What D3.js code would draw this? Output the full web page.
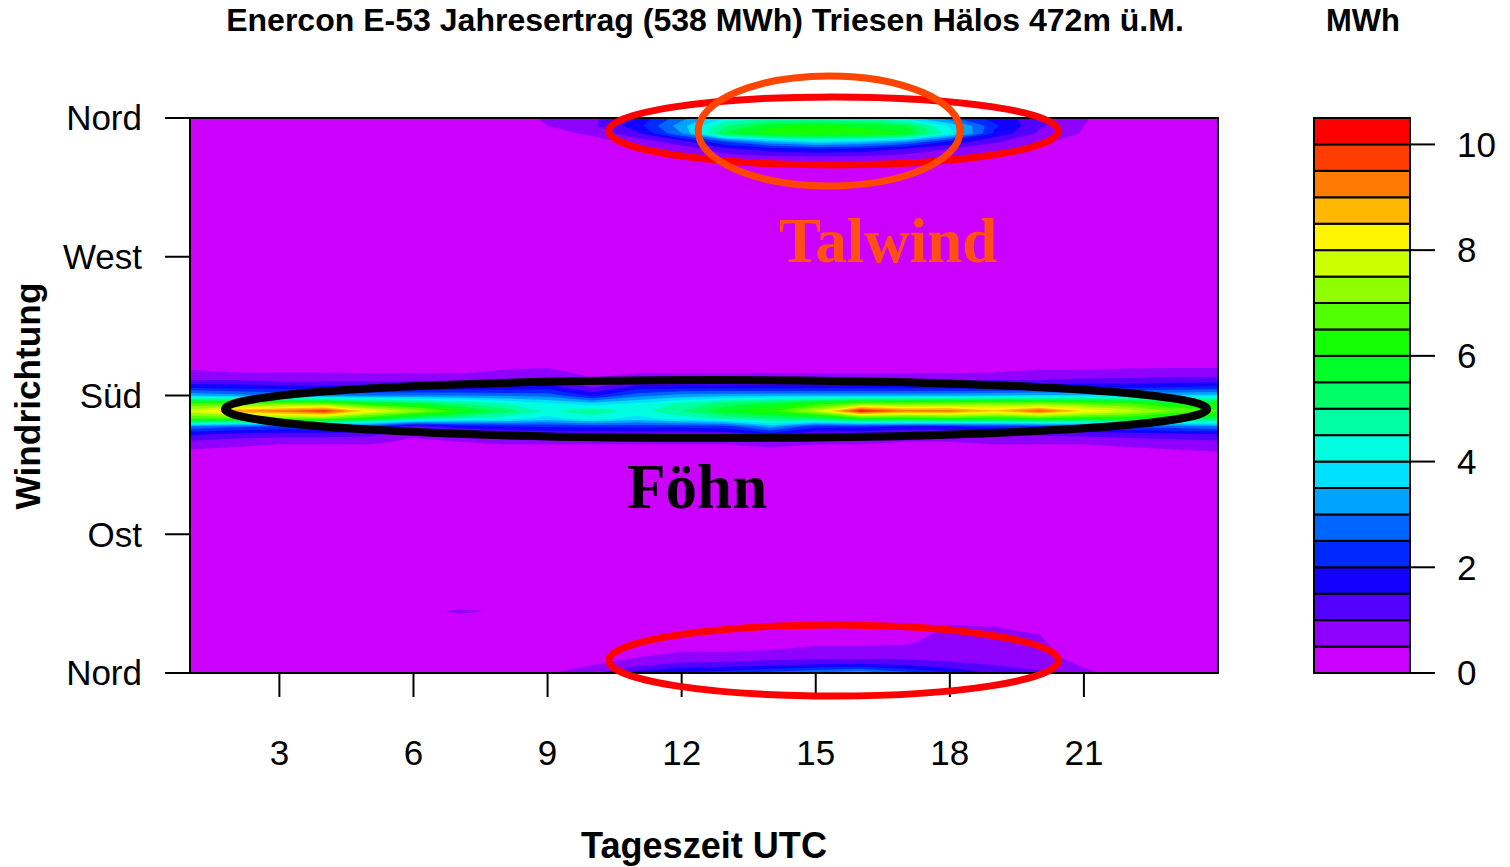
<!DOCTYPE html>
<html><head><meta charset="utf-8">
<script src="https://cdn.jsdelivr.net/npm/d3@7"></script>
<style>body{margin:0;background:#fff} svg{display:block}</style>
</head><body>
<svg id="c" width="1510" height="867"></svg>
<script>
// ---------------- data ----------------
const titleText = "Enercon E-53 Jahresertrag (538 MWh) Triesen Hälos 472m ü.M.";
const legendTitle = "MWh";
const xLabel = "Tageszeit UTC";
const yLabel = "Windrichtung";

const hours = [1,2,3,4,5,6,7,8,9,10,11,12,13,14,15,16,17,18,19,20,21,22,23,24];
const directions = [0,5,10,15,20,25,30,35,40,45,50,55,60,65,70,75,80,85,90,95,100,105,110,115,120,125,130,135,140,145,150,155,160,165,170,175,180,185,190,195,200,205,210,215,220,225,230,235,240,245,250,255,260,265,270,275,280,285,290,295,300,305,310,315,320,325,330,335,340,345,350,355,360];

const xTicks = [3,6,9,12,15,18,21];
const yTickValues = [0,90,180,270,360];
const yTickLabels = ["Nord","Ost","Süd","West","Nord"];
const levels = [0,0.5,1,1.5,2,2.5,3,3.5,4,4.5,5,5.5,6,6.5,7,7.5,8,8.5,9,9.5,10,10.5];
const legendTicks = [0,2,4,6,8,10];

// MWh per hour-of-day (columns = hours) and direction (rows); unlisted directions are < 0.5 (≈0)
const nordUntenDirs = [0,5,10,15,20,25,30,35];
const nordUntenValues = [
  [0,0,0,0,0,0,0,0,0.45,0.9,1.7,2.1,2.3,2.7,3.1,3.5,2.7,2.1,1.4,1.1,0.6,0.3,0,0],
  [0,0,0,0,0,0,0,0,0.2,0.5,0.9,1.2,1.3,1.45,1.6,1.65,1.5,1.2,1.0,0.8,0.45,0,0,0],
  [0,0,0,0,0,0,0,0,0,0.2,0.5,0.65,0.65,0.75,0.85,0.85,0.85,0.8,0.8,0.7,0.3,0,0,0],
  [0,0,0,0,0,0,0,0,0,0,0.3,0.45,0.45,0.5,0.6,0.6,0.6,0.7,0.7,0.65,0.2,0,0,0],
  [0,0,0,0,0,0,0,0,0,0,0,0,0,0.3,0.4,0.4,0.45,0.65,0.65,0.6,0,0,0,0],
  [0,0,0,0,0,0,0,0,0,0,0,0,0,0,0,0,0.3,0.65,0.6,0.5,0,0,0,0],
  [0,0,0,0,0,0,0,0,0,0,0,0,0,0,0,0,0,0.55,0.5,0.3,0,0,0,0],
  [0,0,0,0,0,0,0,0,0,0,0,0,0,0,0,0,0,0.3,0.2,0,0,0,0,0]
];
const ostDirs = [40];
const ostValues = [
  [0,0,0,0,0,0,0.7,0.4,0,0,0,0,0,0,0,0,0,0,0,0,0,0,0,0]
];
const suedDirs = [140,145,150,155,160,165,170,175,180,185,190,195,200];
const suedValues = [
  [0.2,0.1,0,0,0,0,0,0,0,0,0,0,0,0,0,0,0,0,0,0,0,0,0,0.2],
  [0.5,0.4,0.3,0.3,0.3,0.2,0.2,0.3,0.3,0.3,0.3,0.3,0.3,0.4,0.3,0.3,0.2,0.2,0.3,0.3,0.3,0.4,0.5,0.6],
  [0.9,0.7,0.6,0.6,0.6,0.4,0.5,0.6,0.6,0.6,0.6,0.6,0.6,0.8,0.6,0.6,0.5,0.5,0.6,0.6,0.6,0.7,0.8,0.9],
  [1.6,1.4,1.3,1.3,1.2,0.6,0.9,1.0,1.1,1.1,1.1,1.1,1.2,1.8,1.1,1.1,0.9,0.9,1.1,1.1,1.2,1.3,1.4,1.5],
  [3.0,2.6,2.5,2.4,2.3,1.2,1.7,2.0,2.1,2.2,2.2,2.2,2.3,3.3,2.2,2.2,2.0,2.0,2.2,2.3,2.4,2.6,2.8,3.0],
  [6.5,6.5,6.8,6.8,6.0,5.0,4.5,4.2,3.8,4.2,3.8,4.2,4.6,5.0,5.2,6.0,6.0,6.2,6.0,6.2,6.0,6.0,5.5,5.4],
  [7.8,9.0,9.3,9.9,8.3,7.3,6.3,5.3,4.4,4.9,4.3,5.0,5.9,6.4,7.6,10.2,9.3,9.3,8.6,9.6,8.4,7.8,6.9,6.6],
  [6.5,6.5,6.8,6.8,6.0,5.6,5.0,4.5,4.0,3.6,4.0,4.6,5.2,5.6,6.2,6.8,6.8,7.0,7.0,7.0,6.8,6.5,6.0,6.0],
  [3.5,3.2,3.0,3.0,3.0,3.0,3.0,2.9,2.8,1.9,2.8,3.2,3.3,3.4,3.4,3.4,3.4,3.4,3.5,3.6,3.6,3.6,3.6,3.7],
  [2.0,1.9,1.8,1.7,1.7,1.7,1.7,1.7,1.8,1.0,1.8,1.9,1.9,1.9,1.9,1.9,1.9,1.9,1.9,2.0,2.0,2.0,2.1,2.2],
  [1.0,1.0,0.9,0.9,0.9,0.9,0.9,1.0,1.1,0.6,0.9,0.9,0.9,0.9,0.9,0.9,0.9,0.9,1.0,1.0,1.1,1.1,1.2,1.2],
  [0.6,0.5,0.5,0.5,0.45,0.45,0.45,0.6,0.7,0.3,0.45,0.45,0.45,0.45,0.45,0.45,0.45,0.45,0.5,0.6,0.6,0.7,0.7,0.7],
  [0.3,0.2,0.2,0.2,0.2,0.2,0.2,0.3,0.35,0.1,0.2,0.2,0.2,0.2,0.2,0.2,0.2,0.2,0.2,0.3,0.3,0.3,0.35,0.35]
];
const nordObenDirs = [325,330,335,340,345,350,355,360];
const nordObenValues = [
  [0,0,0,0,0,0,0,0,0,0,0,0,0,0.3,0.35,0.3,0,0,0,0,0,0,0,0],
  [0,0,0,0,0,0,0,0,0,0,0,0,0.45,0.55,0.6,0.55,0.45,0.3,0,0,0,0,0,0],
  [0,0,0,0,0,0,0,0,0,0,0,0.4,0.8,0.95,1.0,0.95,0.8,0.5,0.35,0,0,0,0,0],
  [0,0,0,0,0,0,0,0,0,0,0.3,0.7,1.4,1.8,2.0,1.9,1.5,1.0,0.7,0.35,0,0,0,0],
  [0,0,0,0,0,0,0,0,0,0.3,0.7,1.4,2.6,3.5,4.0,3.8,3.2,2.0,1.1,0.6,0.3,0,0,0],
  [0,0,0,0,0,0,0,0,0.3,0.6,1.4,3.0,5.6,6.2,6.4,6.2,6.0,4.2,1.9,0.9,0.45,0,0,0],
  [0,0,0,0,0,0,0,0,0.5,0.9,1.8,3.3,5.0,5.9,6.1,5.9,5.6,3.9,2.1,1.1,0.5,0.2,0,0],
  [0,0,0,0,0,0,0,0.2,0.6,0.9,1.6,2.8,4.0,4.4,4.5,4.3,3.8,2.6,1.8,1.2,0.55,0.2,0,0]
];

// annotations (data units: hour, direction)
const ellipses = [
  {cx:15.4, cy:351.6, rx:5.03, ry:22.1, color:"#ff0000", w:7},
  {cx:15.3, cy:351.6, rx:2.93, ry:35.7, color:"#ff4500", w:7},
  {cx:12.77, cy:171.2, rx:10.99, ry:18.8, color:"#000000", w:8},
  {cx:15.4, cy:8.1, rx:5.03, ry:23.0, color:"#ff0000", w:7}
];
const labels = [
  {text:"Talwind", hour:14.18, dir:266.6, color:"#ff4f14"},
  {text:"Föhn", hour:10.78, dir:107.0, color:"#000000"}
];

// ---------------- drawing ----------------
const svg = d3.select("#c");
const L = 190, R = 1218, T = 118, B = 673;
const x = d3.scaleLinear().domain([hours[0], hours[hours.length-1]]).range([L, R]);
const y = d3.scaleLinear().domain([directions[0], directions[directions.length-1]]).range([B, T]);
const FONT = "'Liberation Sans', Arial, Helvetica, sans-serif";

const nx = hours.length, ny = directions.length;
const grid = new Array(nx*ny).fill(0);
function put(dirs, vals){
  dirs.forEach((d,k)=>{
    const j = directions.indexOf(d);
    vals[k].forEach((v,i)=>{ grid[j*nx+i] = v; });
  });
}
put(nordUntenDirs, nordUntenValues);
put(ostDirs, ostValues);
put(suedDirs, suedValues);
put(nordObenDirs, nordObenValues);

const color = t => d3.hsl((levels.length - 2 - Math.round(t/0.5)) * 14.4, 1, 0.5).formatHex();

const thresholds = levels.slice(0, -1);
const contours = d3.contours().size([nx, ny]).thresholds(thresholds)(grid);
const dxh = hours[1]-hours[0], dyd = directions[1]-directions[0];
const proj = d3.geoTransform({point(px, py){
  this.stream.point(x(hours[0] + (px-0.5)*dxh), y(directions[0] + (py-0.5)*dyd));
}});
const path = d3.geoPath(proj);

svg.append("clipPath").attr("id","clip").append("rect")
  .attr("x",L).attr("y",T).attr("width",R-L).attr("height",B-T);
svg.append("g").attr("clip-path","url(#clip)")
  .selectAll("path").data(contours).join("path")
  .attr("d", path).attr("fill", d=>color(d.value)).attr("stroke","none");

svg.append("rect").attr("x",L).attr("y",T).attr("width",R-L).attr("height",B-T)
  .attr("fill","none").attr("stroke","#000").attr("stroke-width",2);

// y axis
const yax = svg.append("g");
yTickValues.forEach((v,i)=>{
  yax.append("line").attr("x1",165).attr("x2",L).attr("y1",y(v)).attr("y2",y(v))
    .attr("stroke","#000").attr("stroke-width",2);
  yax.append("text").attr("x",142).attr("y",y(v)).attr("dy","0.35em")
    .attr("text-anchor","end").attr("font-family",FONT).attr("font-size",35).text(yTickLabels[i]);
});
// x axis
const xax = svg.append("g");
xTicks.forEach(v=>{
  xax.append("line").attr("x1",x(v)).attr("x2",x(v)).attr("y1",B).attr("y2",697)
    .attr("stroke","#000").attr("stroke-width",2);
  xax.append("text").attr("x",x(v)).attr("y",765)
    .attr("text-anchor","middle").attr("font-family",FONT).attr("font-size",35).text(v);
});

function fit(sel, w){
  const fs = +sel.attr("font-size");
  const l = sel.node().getComputedTextLength();
  if (l > 0) sel.attr("font-size", fs * w / l);
}
const title = svg.append("text").attr("x",705).attr("y",31).attr("text-anchor","middle")
  .attr("font-family",FONT).attr("font-weight","bold").attr("font-size",30).text(titleText);
fit(title, 958);
const lt = svg.append("text").attr("x",1363).attr("y",31).attr("text-anchor","middle")
  .attr("font-family",FONT).attr("font-weight","bold").attr("font-size",30).text(legendTitle);
fit(lt, 74);
const xl = svg.append("text").attr("x",704).attr("y",858).attr("text-anchor","middle")
  .attr("font-family",FONT).attr("font-weight","bold").attr("font-size",34).text(xLabel);
fit(xl, 246);
const yl = svg.append("text").attr("transform","translate(40,396) rotate(-90)").attr("text-anchor","middle")
  .attr("font-family",FONT).attr("font-weight","bold").attr("font-size",34).text(yLabel);
fit(yl, 227);

// colour key
const ly = d3.scaleLinear().domain([levels[0], levels[levels.length-1]]).range([B, T]);
const key = svg.append("g");
key.selectAll("rect").data(d3.pairs(levels)).join("rect")
  .attr("x",1314).attr("width",96)
  .attr("y",d=>ly(d[1])).attr("height",d=>ly(d[0])-ly(d[1]))
  .attr("fill",d=>color(d[0])).attr("stroke","#000").attr("stroke-width",2);
legendTicks.forEach(v=>{
  key.append("line").attr("x1",1410).attr("x2",1435).attr("y1",ly(v)).attr("y2",ly(v))
    .attr("stroke","#000").attr("stroke-width",2);
  key.append("text").attr("x",1457).attr("y",ly(v)).attr("dy","0.35em")
    .attr("font-family",FONT).attr("font-size",35).text(v);
});

// annotations
const pxH = (x(1) - x(0)), pxD = (y(0) - y(1));
ellipses.forEach(e=>{
  svg.append("ellipse").attr("cx",x(e.cx)).attr("cy",y(e.cy))
    .attr("rx",e.rx*pxH).attr("ry",e.ry*pxD)
    .attr("fill","none").attr("stroke",e.color).attr("stroke-width",e.w);
});
labels.forEach(l=>{
  svg.append("text").attr("x",x(l.hour)).attr("y",y(l.dir))
    .attr("font-family","'Liberation Serif', 'Times New Roman', serif").attr("font-weight","bold")
    .attr("font-size",63).attr("fill",l.color).text(l.text);
});
</script>
</body></html>
